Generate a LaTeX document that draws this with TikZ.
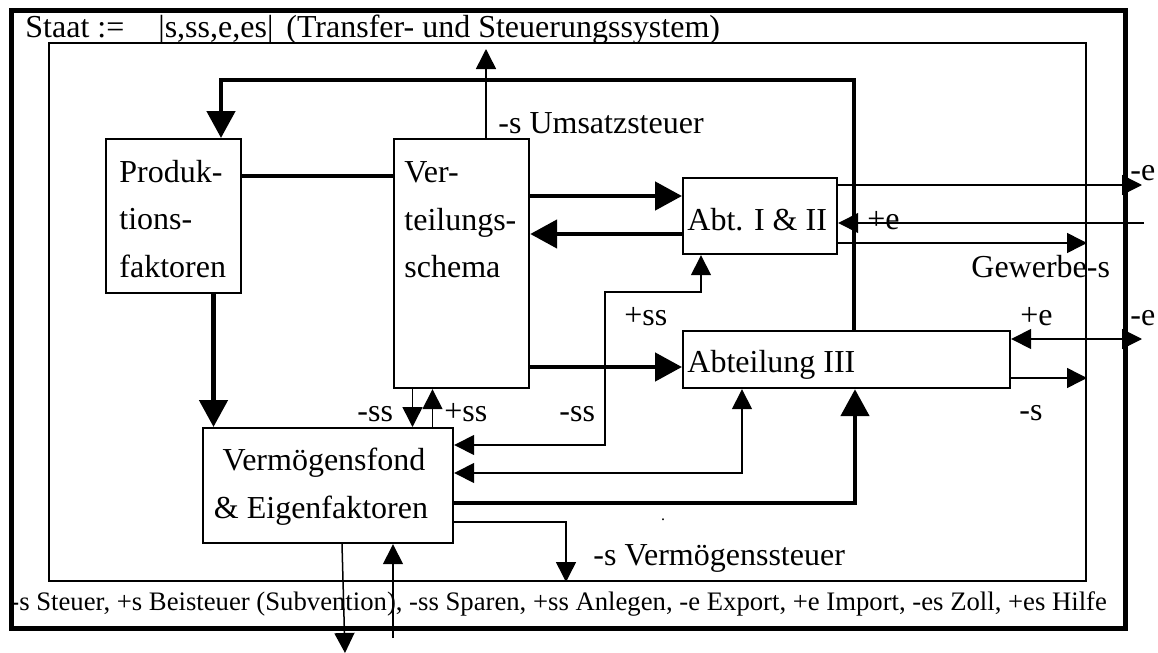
\documentclass[tikz,border=0pt]{standalone}
\usepackage{fontspec}
\setmainfont{Liberation Serif}
\usetikzlibrary{arrows.meta}
\begin{document}
\begin{tikzpicture}[x=0.5pt,y=-0.5pt,
  frame/.style={draw,inner sep=0pt,anchor=north west},
  box/.style={draw,line width=1.1pt,inner sep=0pt,anchor=north west,fill=white},
  thk/.style={line width=2.4pt},
  thn/.style={line width=0.75pt},
  bigtip/.style={-{Triangle[length=13.5pt,width=14pt]}},
  smtip/.style={-{Triangle[length=10pt,width=10pt]}},
  smboth/.style={{Triangle[length=10pt,width=10pt]}-{Triangle[length=10pt,width=10pt]}},
  lbl/.style={inner sep=0pt,anchor=base west,font=\fontsize{16}{18}\selectfont},
  lblc/.style={inner sep=0pt,anchor=base,font=\fontsize{16}{18}\selectfont},
  legend/.style={inner sep=0pt,anchor=base west,font=\fontsize{13.35}{16}\selectfont}]
\useasboundingbox (0,0) rectangle (1158,653);
% frames
\node[frame,line width=2.5pt,minimum width=557pt,minimum height=309pt] (outer) at (9,8) {};
\node[frame,line width=1pt,minimum width=518.5pt,minimum height=269pt] (inner) at (48,42) {};
% title
\node[lbl] (t1) at (25,37) {Staat :=};
\node[lbl] (t2) at (158,37) {|s,ss,e,es|};
\node[lbl] (t3) at (286,37) {(Transfer- und Steuerungssystem)};
% boxes
\node[box,minimum width=67.5pt,minimum height=77pt] (prod) at (105,138) {};
\node[box,minimum width=67.5pt,minimum height=124.5pt] (vert) at (393,138) {};
\node[box,minimum width=77pt,minimum height=38pt] (abt1) at (682,177) {};
\node[box,minimum width=163.5pt,minimum height=28.5pt] (abt3) at (682,330) {};
\node[box,minimum width=125pt,minimum height=57.5pt] (verm) at (202,427) {};
% box texts
\node[lbl] (p1) at (119,182) {Produk-};
\node[lbl] (p2) at (119,229) {tions-};
\node[lbl] (p3) at (119,277) {faktoren};
\node[lbl] (v1) at (404,182) {Ver-};
\node[lbl] (v2) at (404,230) {teilungs-};
\node[lbl] (v3) at (404,277) {schema};
\node[lbl] (a1) at (687,230) {Abt. I \& II};
\node[lbl] (a3) at (687,372) {Abteilung III};
\node[lblc] (m1) at (324,470) {Vermögensfond};
\node[lblc] (m2) at (321,518) {\& Eigenfaktoren};
% thick connectors
\coordinate (fbR) at (854,80);
\coordinate (fbL) at (221,80);
\draw[thk,bigtip] (fbR |- abt3.north) -- (fbR) -- (fbL) -- (fbL |- prod.north);
\coordinate (py) at (0,176);
\draw[thk] (prod.east |- py) -- (vert.west |- py);
\coordinate (px) at (213.5,0);
\draw[thk,bigtip] (px |- prod.south) -- (px |- verm.north);
\coordinate (y1) at (0,196);
\draw[thk,bigtip] (vert.east |- y1) -- (abt1.west |- y1);
\coordinate (y2) at (0,234);
\draw[thk,bigtip] (abt1.west |- y2) -- (vert.east |- y2);
\coordinate (y3) at (0,367);
\draw[thk,bigtip] (vert.east |- y3) -- (abt3.west |- y3);
\coordinate (c7) at (855,503);
\draw[thk,bigtip] (verm.east |- c7) -- (c7) -- (c7 |- abt3.south);
% thin connectors
\coordinate (ust) at (486,49);
\draw[thn,smtip] (ust |- vert.north) -- (ust);
\coordinate (ssd) at (412.5,0);
\draw[thn,smtip] (ssd |- vert.south) -- (ssd |- verm.north);
\coordinate (ssu) at (432.5,0);
\draw[thn,smtip] (ssu |- verm.north) -- (ssu |- vert.south);
\coordinate (ex1) at (1142,185);
\draw[thn,smtip] (abt1.east |- ex1) -- (ex1);
\coordinate (im1) at (1144,223);
\draw[thn,smtip] (im1) -- (abt1.east |- im1);
\coordinate (gw) at (0,243);
\draw[thn,smtip] (abt1.east |- gw) -- (inner.east |- gw);
\coordinate (ssa) at (605,445);
\coordinate (ssb) at (605,292);
\coordinate (ssc) at (701,292);
\draw[thn,smboth] (verm.east |- ssa) -- (ssa) -- (ssb) -- (ssc) -- (ssc |- abt1.south);
\coordinate (va) at (742,473);
\draw[thn,smboth] (verm.east |- va) -- (va) -- (va |- abt3.south);
\coordinate (e3) at (1142,339);
\draw[thn,smboth] (abt3.east |- e3) -- (e3);
\coordinate (s3) at (0,378);
\draw[thn,smtip] (abt3.east |- s3) -- (inner.east |- s3);
\coordinate (vs) at (566,522);
\draw[thn,smtip] (verm.east |- vs) -- (vs) -- (vs |- inner.south);
\coordinate (bo1) at (342,0);
\coordinate (bo) at (345,653);
\draw[thn,smtip] (bo1 |- verm.south) -- (bo);
\coordinate (bi) at (393,638);
\draw[thn,smtip] (bi) -- (bi |- verm.south);
% labels
\node[lbl] (lu) at (498,133) {-s Umsatzsteuer};
\node[lbl] (lie) at (867,229) {+e};
\node[lbl] (lgw) at (971,277) {Gewerbe-s};
\node[lbl] (lex1) at (1130,180) {-e};
\node[lbl] (lpss) at (624,325) {+ss};
\node[lbl] (lie3) at (1020,325) {+e};
\node[lbl] (lex3) at (1130,325) {-e};
\node[lbl] (ls3) at (1019,420) {-s};
\node[lbl] (lss1) at (357,421) {-ss};
\node[lbl] (lss2) at (444,421) {+ss};
\node[lbl] (lss3) at (559,421) {-ss};
\node[lbl] (lvs) at (593,565) {-s Vermögenssteuer};
\node[inner sep=0pt,font=\fontsize{8}{8}\selectfont] (dot) at (663,520) {.};
\node[legend] (leg) at (10,610) {-s Steuer, +s Beisteuer (Subvention), -ss Sparen, +ss Anlegen, -e Export, +e Import, -es Zoll, +es Hilfe};
\end{tikzpicture}
\end{document}
